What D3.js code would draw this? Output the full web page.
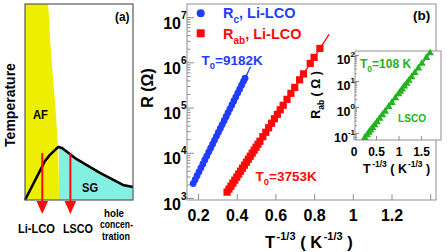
<!DOCTYPE html>
<html><head><meta charset="utf-8">
<script src="https://cdn.jsdelivr.net/npm/d3@7"></script>
<style>body{margin:0;background:#fff}svg{display:block}</style>
</head><body><svg id="c" width="447" height="252"></svg>
<script>
// ---------- data ----------
// panel (a): schematic phase diagram, (doping, temperature) in 0..1 units
const afBoundary = [[0,0],[0,1],[0.213,1],[0.225,0.92],[0.235,0.8],[0.255,0.65],[0.278,0.5],[0.298,0.34],[0.306,0.27],[0.313,0.12],[0.315,0]];
const sgFill = [[0.315,0],[0.315,0.267],[0.343,0.265],[0.463,0.214],[0.694,0.138],[0.907,0.077],[1,0.066],[1,0]];
const sgLine = [[0,0],[0.185,0.199],[0.231,0.23],[0.306,0.27],[0.343,0.265],[0.463,0.214],[0.694,0.138],[0.907,0.077],[1,0.066]];
const arrowDoping = [0.16, 0.42];
const arrowTop = 0.24, arrowTip = -0.071;
const dopingLabels = ["Li-LCO", "LSCO"];

// panel (b): R vs T^-1/3
const blueX = [0.175,0.185,0.195,0.205,0.215,0.225,0.235,0.245,0.255,0.265,0.275,0.285,0.295,0.305,0.315,0.325,0.335,0.345,0.355,0.365,0.375,0.385,0.395,0.405,0.415,0.425,0.435,0.443];
const blueR = [2084,2547,3112,3802,4645,5675,6934,8472,10350,12650,15450,18880,23070,28180,34430,42070,51400,62810,76740,93760,114600,140000,171000,208900,255300,311900,381100,446700];
const blueFitX = [0.17, 0.472];
const blueFitR = [1884, 799000];

const redX = [0.35,0.36,0.37,0.38,0.39,0.40,0.41,0.42,0.43,0.44,0.45,0.46,0.47,0.48,0.49,0.50,0.51,0.52,0.535,0.55,0.565,0.58,0.595,0.61,0.625,0.64,0.66,0.68,0.70,0.725,0.745,0.78,0.80,0.83];
const redR = [1349,1570,1828,2133,2483,2891,3365,3917,4571,5321,6194,7211,8395,9795,11400,13270,15450,17990,22650,28440,35730,44980,56490,70960,89330,112200,152100,206500,279900,410200,555900,948400,1285000,2032000];
const redFitX = [0.34, 0.878];
const redFitR = [1159, 4220000];

const xTicks = [0.2,0.4,0.6,0.8,1.0,1.2,1.4];
const xTickLabels = ["0.2","0.4","0.6","0.8","1","1.2",""];
const yDecades = [3,4,5,6,7];

// inset: LSCO
const greenX = [0.25,0.30,0.34,0.38,0.42,0.47,0.52,0.58,0.64,0.70,0.78,0.85,0.93,1.00,1.04,1.08,1.13,1.18,1.23,1.29,1.36,1.44,1.52,1.62,1.70];
const greenR = [0.0653,0.0846,0.1041,0.1281,0.1576,0.2042,0.2645,0.3609,0.4927,0.6722,1.017,1.462,2.213,3.181,3.913,4.814,6.237,8.081,10.47,14.29,20.54,31.08,47.03,78.98,119.5];
const greenFitX = [0.23, 1.73];
const greenFitR = [0.0589, 139.6];
const insetXTicks = [0, 0.5, 1, 1.5];
const insetXTickLabels = ["0","0.5","1","1.5"];
const insetDecades = [-1,0,1,2];

// ---------- drawing ----------
const F = "'Liberation Sans', Arial, Helvetica, sans-serif";
const svg = d3.select("#c").style("font-family", F);
const BLUE = "#1f3cff", RED = "#ff0a0a", GREEN = "#22b41e", GRAY = "#8f8f8f";

// ===== panel (a) =====
const xA = d3.scaleLinear().domain([0,1]).range([25,133]);
const yA = d3.scaleLinear().domain([0,1]).range([200,4]);
const lineA = d3.line().x(d => xA(d[0])).y(d => yA(d[1]));
svg.append("path").attr("d", lineA(afBoundary) + "Z").attr("fill", "#eeee00");
svg.append("path").attr("d", lineA(sgFill) + "Z").attr("fill", "#84f0e2");
svg.append("path").attr("d", lineA(sgLine)).attr("fill", "none").attr("stroke", "#000")
  .attr("stroke-width", 2.6).attr("stroke-linejoin", "round");
svg.append("rect").attr("x", xA(0)).attr("y", yA(1)).attr("width", xA(1)-xA(0)).attr("height", yA(0)-yA(1))
  .attr("fill", "none").attr("stroke", "#5a5a5a").attr("stroke-width", 1.2);

arrowDoping.forEach(d => {
  const x = xA(d), yt = yA(arrowTip);
  svg.append("line").attr("x1", x).attr("x2", x).attr("y1", yA(arrowTop)).attr("y2", yt - 12)
    .attr("stroke", RED).attr("stroke-width", 2);
  svg.append("path").attr("d", `M${x-5.8},${yt-13}L${x+5.8},${yt-13}L${x},${yt}Z`).attr("fill", RED);
});

function txt(x, y, s, size, opts = {}) {
  const t = svg.append("text").attr("x", x).attr("y", y).text(s)
    .attr("font-size", size).attr("font-weight", "bold").attr("fill", opts.fill || "#000");
  if (opts.anchor) t.attr("text-anchor", opts.anchor);
  if (opts.len) t.attr("textLength", opts.len).attr("lengthAdjust", "spacingAndGlyphs");
  return t;
}
svg.append("text").attr("transform", "translate(15,105) rotate(-90)").attr("text-anchor", "middle")
  .attr("font-size", 14).attr("font-weight", "bold").text("Temperature");
txt(33, 119, "AF", 13, {len: 15});
txt(82, 191.5, "SG", 13, {len: 16});
txt(115, 20.5, "(a)", 13, {len: 14.5});
txt(18, 233, dopingLabels[0], 12.5, {len: 37});
txt(63, 233, dopingLabels[1], 12.5, {len: 30});
txt(104, 216.5, "hole", 10.5, {len: 20});
txt(100, 228, "concen-", 10.5, {len: 33});
txt(102, 239.5, "tration", 10.5, {len: 28});

// ===== panel (b) main =====
const xM = d3.scaleLinear().domain([0.143, 1.43]).range([187, 436]);
const yM = d3.scaleLog().domain([Math.pow(10, 2.956), Math.pow(10, 7.29)]).range([200, 4]);

const allY = yM.ticks();
const minorY = allY.filter(v => Math.abs(Math.log10(v) - Math.round(Math.log10(v))) > 1e-6);
const majorY = yDecades.map(e => Math.pow(10, e));

function styleAxis(g) {
  g.select(".domain").remove();
  g.selectAll(".tick line").attr("stroke", GRAY);
}
svg.append("g").attr("transform", "translate(187,0)")
  .call(d3.axisLeft(yM).tickValues(minorY).tickSize(-3.5).tickFormat("")).call(styleAxis);
svg.append("g").attr("transform", "translate(187,0)")
  .call(d3.axisLeft(yM).tickValues(majorY).tickSize(-7).tickFormat("")).call(styleAxis);

const gx = svg.append("g").attr("transform", "translate(0,200)")
  .call(d3.axisBottom(xM).tickValues(xTicks).tickSize(-6).tickFormat((d, i) => xTickLabels[i]))
  .call(styleAxis);
gx.selectAll(".tick text").attr("y", 21).attr("dy", null).attr("fill", "#000")
  .attr("font-size", 16).attr("font-weight", "bold").attr("font-family", F);

svg.append("rect").attr("x", 187).attr("y", 4).attr("width", 249).attr("height", 196)
  .attr("fill", "none").attr("stroke", GRAY).attr("stroke-width", 1);

yDecades.forEach(e => {
  const t = svg.append("text").attr("x", 186.5).attr("y", yM(Math.pow(10, e)) + 11.5)
    .attr("text-anchor", "end").attr("font-weight", "bold").attr("fill", "#000");
  t.append("tspan").attr("font-size", 16).text("10");
  t.append("tspan").attr("font-size", 10).attr("dy", -10).text(e);
});

// axis titles
svg.append("text").attr("transform", "translate(153,88) rotate(-90)").attr("text-anchor", "middle")
  .attr("font-size", 16).attr("font-weight", "bold").text("R (Ω)");
const xt = svg.append("text").attr("x", 265).attr("y", 247.5).attr("font-weight", "bold");
xt.append("tspan").attr("font-size", 16.5).text("T");
xt.append("tspan").attr("font-size", 11).attr("dy", -8).attr("dx", 1.5).text("-1/3");
xt.append("tspan").attr("font-size", 16.5).attr("dy", 8).text(" ( K");
xt.append("tspan").attr("font-size", 11).attr("dy", -8).attr("dx", 1.5).text("-1/3");
xt.append("tspan").attr("font-size", 16.5).attr("dy", 8).text(" )");

// fit lines
const lineM = d3.line().x(d => xM(d[0])).y(d => yM(d[1]));
svg.append("path").attr("d", lineM(redFitX.map((x, i) => [x, redFitR[i]])))
  .attr("stroke", RED).attr("stroke-width", 1.3).attr("fill", "none");
svg.append("path").attr("d", lineM(blueFitX.map((x, i) => [x, blueFitR[i]])))
  .attr("stroke", BLUE).attr("stroke-width", 1.3).attr("fill", "none");

// data points
svg.append("g").selectAll("circle").data(blueX).join("circle")
  .attr("cx", d => xM(d)).attr("cy", (d, i) => yM(blueR[i])).attr("r", 3.4).attr("fill", BLUE);
svg.append("g").selectAll("rect").data(redX).join("rect")
  .attr("x", d => xM(d) - 3.6).attr("y", (d, i) => yM(redR[i]) - 3.6)
  .attr("width", 7.2).attr("height", 7.2).attr("fill", RED);

// legend
svg.append("circle").attr("cx", 200.7).attr("cy", 13.3).attr("r", 4).attr("fill", BLUE);
svg.append("rect").attr("x", 196.7).attr("y", 29.3).attr("width", 8).attr("height", 8).attr("fill", RED);
function subLabel(x, y, main, sub, rest, size, subSize, color) {
  const t = svg.append("text").attr("x", x).attr("y", y).attr("font-weight", "bold").attr("fill", color);
  t.append("tspan").attr("font-size", size).text(main);
  t.append("tspan").attr("font-size", subSize).attr("dy", size * 0.32).text(sub);
  t.append("tspan").attr("font-size", size).attr("dy", -size * 0.32).text(rest);
  return t;
}
subLabel(223, 18, "R", "c", ", Li-LCO", 14.5, 10, BLUE);
subLabel(223, 39, "R", "ab", ", Li-LCO", 14.5, 10, RED);
subLabel(201.5, 65, "T", "0", "=9182K", 13.5, 9.5, BLUE);
subLabel(255.5, 181, "T", "0", "=3753K", 13.5, 9.5, RED);
txt(413, 19.5, "(b)", 13.5);

// ===== inset =====
const xI = d3.scaleLinear().domain([0.033, 1.944]).range([355, 441]);
const yI = d3.scaleLog().domain([Math.pow(10, -1.269), Math.pow(10, 2.154)]).range([140, 51]);
svg.append("rect").attr("x", 355).attr("y", 51).attr("width", 86).attr("height", 89)
  .attr("fill", "#fff").attr("stroke", GRAY).attr("stroke-width", 1);
const allYI = yI.ticks();
const minorYI = allYI.filter(v => Math.abs(Math.log10(v) - Math.round(Math.log10(v))) > 1e-6);
svg.append("g").attr("transform", "translate(355,0)")
  .call(d3.axisLeft(yI).tickValues(minorYI).tickSize(-2).tickFormat("")).call(styleAxis);
svg.append("g").attr("transform", "translate(355,0)")
  .call(d3.axisLeft(yI).tickValues(insetDecades.map(e => Math.pow(10, e))).tickSize(-4).tickFormat("")).call(styleAxis);
const gxi = svg.append("g").attr("transform", "translate(0,140)")
  .call(d3.axisBottom(xI).tickValues(insetXTicks).tickSize(-4).tickFormat((d, i) => insetXTickLabels[i]))
  .call(styleAxis);
gxi.selectAll(".tick text").attr("y", 16).attr("dy", null).attr("fill", "#000")
  .attr("font-size", 12).attr("font-weight", "bold").attr("font-family", F);
insetDecades.forEach(e => {
  const t = svg.append("text").attr("x", 355).attr("y", yI(Math.pow(10, e)) + 8.5)
    .attr("text-anchor", "end").attr("font-weight", "bold").attr("fill", "#000");
  t.append("tspan").attr("font-size", 12.5).text("10");
  t.append("tspan").attr("font-size", 8).attr("dy", -7).text(e);
});
const lineI = d3.line().x(d => xI(d[0])).y(d => yI(d[1]));
svg.append("path").attr("d", lineI(greenFitX.map((x, i) => [x, greenFitR[i]])))
  .attr("stroke", GREEN).attr("stroke-width", 1.3).attr("fill", "none");
const tri = d3.symbol().type(d3.symbolTriangle).size(26);
svg.append("g").selectAll("path").data(greenX).join("path")
  .attr("transform", (d, i) => `translate(${xI(d)},${yI(greenR[i])})`).attr("d", tri).attr("fill", GREEN);

subLabel(360, 68, "T", "0", "=108 K", 12, 8.5, GREEN);
txt(398, 122, "LSCO", 11.5, {fill: GREEN, len: 28});

const yti = svg.append("text").attr("transform", "translate(320,95) rotate(-90)").attr("text-anchor", "middle")
  .attr("font-weight", "bold");
yti.append("tspan").attr("font-size", 12.5).text("R");
yti.append("tspan").attr("font-size", 8.5).attr("dy", 3.5).text("ab");
yti.append("tspan").attr("font-size", 12.5).attr("dy", -3.5).text(" ( Ω )");
const xti = svg.append("text").attr("x", 363).attr("y", 173).attr("font-weight", "bold");
xti.append("tspan").attr("font-size", 12.5).text("T");
xti.append("tspan").attr("font-size", 8.5).attr("dy", -6).attr("dx", 1.5).text("-1/3");
xti.append("tspan").attr("font-size", 12.5).attr("dy", 6).text(" ( K");
xti.append("tspan").attr("font-size", 8.5).attr("dy", -6).attr("dx", 1).text("-1/3");
xti.append("tspan").attr("font-size", 12.5).attr("dy", 6).text("  )");
</script></body></html>
